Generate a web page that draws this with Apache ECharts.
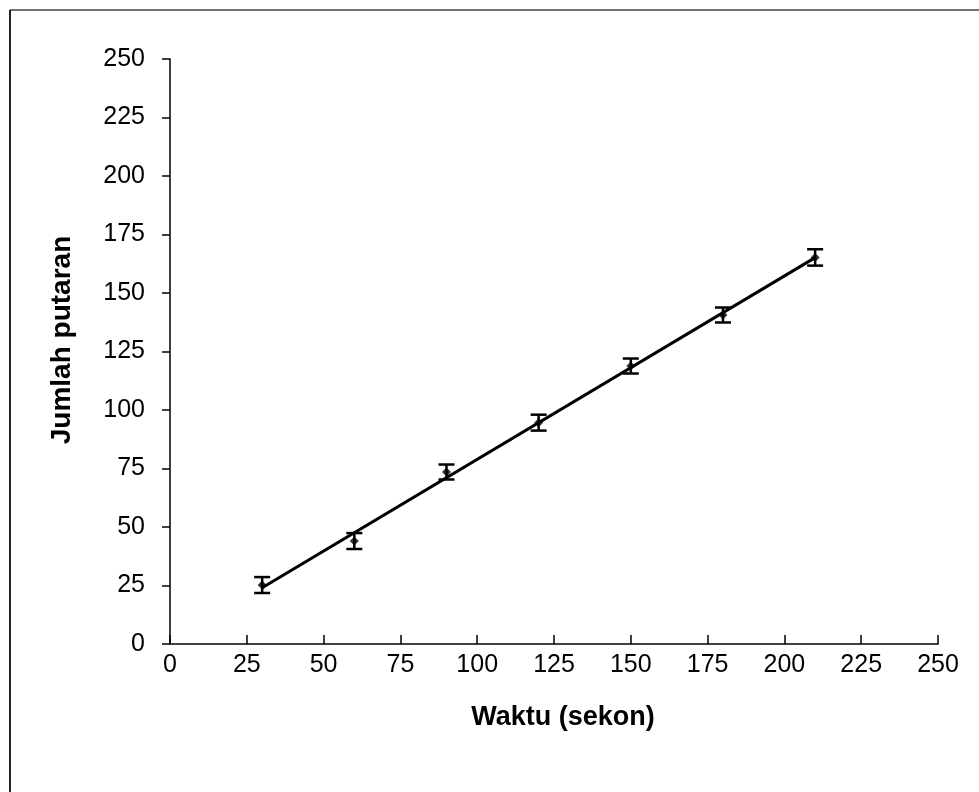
<!DOCTYPE html>
<html>
<head>
<meta charset="utf-8">
<script src="https://cdn.jsdelivr.net/npm/echarts@6/dist/echarts.min.js"></script>
<style>
html,body{margin:0;padding:0;background:#fff;}
#chart{width:979px;height:792px;}
</style>
</head>
<body>
<div id="chart"></div>
<script>
// Data
var waktu = [30, 60, 90, 120, 150, 180, 210];
var putaran = [25.2, 44.0, 73.5, 94.6, 118.8, 140.6, 165.2];
var errLow = [3.4, 3.4, 3.2, 3.4, 3.2, 3.2, 3.5];
var errHigh = [3.4, 3.4, 3.2, 3.4, 3.2, 3.2, 3.5];
var tickValues = [0, 25, 50, 75, 100, 125, 150, 175, 200, 225, 250];
var xTitle = 'Waktu (sekon)';
var yTitle = 'Jumlah putaran';

// least-squares trendline from the data
var n = waktu.length, sx = 0, sy = 0, sxx = 0, sxy = 0;
for (var i = 0; i < n; i++) { sx += waktu[i]; sy += putaran[i]; sxx += waktu[i]*waktu[i]; sxy += waktu[i]*putaran[i]; }
var slope = (n*sxy - sx*sy) / (n*sxx - sx*sx);
var icpt = (sy - slope*sx) / n;
var xMin = Math.min.apply(null, waktu), xMax = Math.max.apply(null, waktu);
var trend = [[xMin, icpt + slope*xMin], [xMax, icpt + slope*xMax]];

var points = waktu.map(function (x, i) { return [x, putaran[i]]; });
var errData = waktu.map(function (x, i) { return [x, putaran[i] - errLow[i], putaran[i] + errHigh[i]]; });

var font = '"Liberation Sans", Arial, sans-serif';
var chart = echarts.init(document.getElementById('chart'), null, {renderer: 'canvas'});
chart.setOption({
  backgroundColor: '#fff',
  animation: false,
  graphic: [
    {type: 'line', shape: {x1: 10, y1: 10, x2: 979, y2: 10}, style: {stroke: '#444', lineWidth: 1.5}},
    {type: 'line', shape: {x1: 10, y1: 10, x2: 10, y2: 792}, style: {stroke: '#222', lineWidth: 2}},
    {type: 'text', x: 563, y: 718, style: {text: xTitle, font: 'bold 27px "Liberation Sans", Arial, sans-serif', fill: '#000', textAlign: 'center', textVerticalAlign: 'middle'}},
    {type: 'text', x: 62, y: 340, rotation: Math.PI/2, style: {text: yTitle, font: 'bold 28px "Liberation Sans", Arial, sans-serif', fill: '#000', textAlign: 'center', textVerticalAlign: 'middle'}}
  ],
  grid: {left: 170, right: 41, top: 59, bottom: 148, containLabel: false},
  xAxis: {
    type: 'value', min: 0, max: 250, interval: 25,
    axisLine: {lineStyle: {color: '#000', width: 1.5}},
    axisTick: {inside: true, length: 9, lineStyle: {color: '#000', width: 1.5}},
    axisLabel: {fontFamily: font, fontSize: 25, color: '#000', margin: 9},
    splitLine: {show: false}
  },
  yAxis: {
    type: 'value', min: 0, max: 250, interval: 25,
    axisLine: {lineStyle: {color: '#000', width: 1.5}},
    axisTick: {inside: false, length: 8, lineStyle: {color: '#000', width: 1.5}},
    axisLabel: {fontFamily: font, fontSize: 25, color: '#000', margin: 25},
    splitLine: {show: false}
  },
  series: [
    {
      type: 'line', data: trend, showSymbol: false, symbol: 'none',
      lineStyle: {color: '#000', width: 3}, z: 2
    },
    {
      type: 'custom', data: errData, z: 3,
      renderItem: function (params, api) {
        var x = api.value(0);
        var lo = api.coord([x, api.value(1)]);
        var hi = api.coord([x, api.value(2)]);
        var hw = 8;
        var st = {stroke: '#000', lineWidth: 2.5};
        return {type: 'group', children: [
          {type: 'line', shape: {x1: lo[0], y1: lo[1], x2: hi[0], y2: hi[1]}, style: st},
          {type: 'line', shape: {x1: lo[0]-hw, y1: lo[1], x2: lo[0]+hw, y2: lo[1]}, style: st},
          {type: 'line', shape: {x1: hi[0]-hw, y1: hi[1], x2: hi[0]+hw, y2: hi[1]}, style: st}
        ]};
      },
      encode: {x: 0, y: [1, 2]}
    },
    {
      type: 'scatter', data: points, symbol: 'diamond', symbolSize: 9,
      itemStyle: {color: '#000'}, z: 4
    }
  ]
});
</script>
</body>
</html>
